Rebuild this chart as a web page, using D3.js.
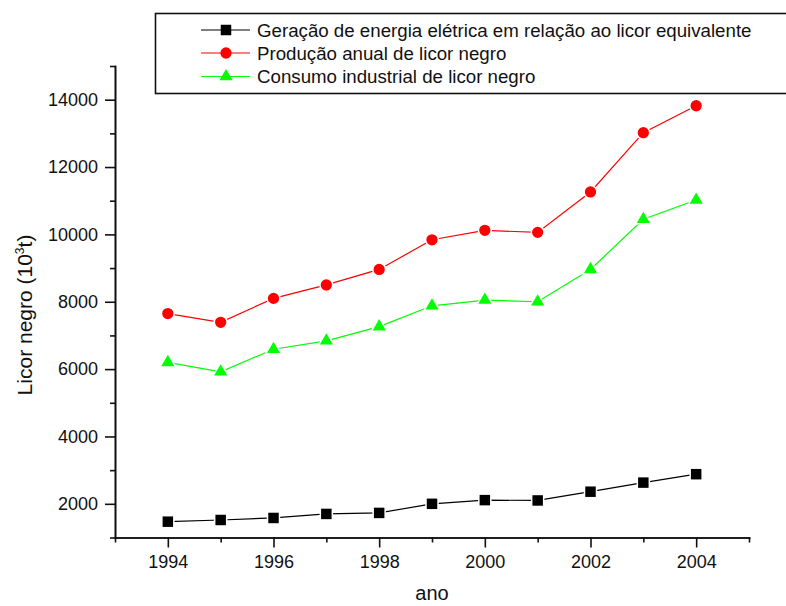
<!DOCTYPE html>
<html>
<head>
<meta charset="utf-8">
<script src="https://cdn.jsdelivr.net/npm/d3@7"></script>
<style>
  body { margin: 0; background: #fff; }
  .chart text { font-family: Arial, "Liberation Sans", sans-serif; fill: #111; }
</style>
</head>
<body>
<div class="chart"></div>
<script>
// data
const years = [1994, 1995, 1996, 1997, 1998, 1999, 2000, 2001, 2002, 2003, 2004];
const geracao = [1470, 1520, 1580, 1700, 1730, 2000, 2110, 2100, 2360, 2630, 2880];
const producao = [7650, 7390, 8100, 8500, 8960, 9840, 10120, 10060, 11260, 13020, 13820];
const consumo = [6200, 5920, 6590, 6840, 7260, 7880, 8050, 8000, 8960, 10450, 11020];
const seriesNames = [
  'Geração de energia elétrica em relação ao licor equivalente',
  'Produção anual de licor negro',
  'Consumo industrial de licor negro'
];
const xMajor = [1994, 1996, 1998, 2000, 2002, 2004];
const xMinor = [1993, 1995, 1997, 1999, 2001, 2003, 2005];
const yMajor = [2000, 4000, 6000, 8000, 10000, 12000, 14000];
const yMinor = [1000, 3000, 5000, 7000, 9000, 11000, 13000, 15000];

const width = 786;
const height = 606;
const plot = { left: 115, right: 749, top: 66, bottom: 537.5 };

const svg = d3.select('.chart')
  .append('svg')
    .attr('width', width)
    .attr('height', height);

const x = d3.scaleLinear().domain([1993, 2005]).range([plot.left, plot.right]);
const y = d3.scaleLinear().domain([1000, 15000]).range([plot.bottom, plot.top]);

// axes: major ticks with labels, minor ticks without
function styleAxis(g) {
  g.selectAll('path, line').attr('stroke', '#111').attr('stroke-width', 1.6);
  g.selectAll('text').style('font-size', '18px');
}

svg.append('g')
    .attr('transform', `translate(0, ${plot.bottom})`)
    .call(d3.axisBottom(x).tickValues(xMinor).tickSize(5).tickSizeOuter(0).tickFormat(''))
    .call(styleAxis);
svg.append('g')
    .attr('transform', `translate(0, ${plot.bottom})`)
    .call(d3.axisBottom(x).tickValues(xMajor).tickSize(10).tickSizeOuter(0).tickPadding(8).tickFormat(d3.format('d')))
    .call(styleAxis);

svg.append('g')
    .attr('transform', `translate(${plot.left}, 0)`)
    .call(d3.axisLeft(y).tickValues(yMinor).tickSize(5).tickSizeOuter(0).tickFormat(''))
    .call(styleAxis);
svg.append('g')
    .attr('transform', `translate(${plot.left}, 0)`)
    .call(d3.axisLeft(y).tickValues(yMajor).tickSize(10).tickSizeOuter(0).tickPadding(7).tickFormat(d3.format('d')))
    .call(styleAxis);

svg.selectAll('.domain').attr('stroke-linecap', 'square');

// axis titles
svg.append('text')
    .attr('x', (plot.left + plot.right) / 2)
    .attr('y', 600)
    .attr('text-anchor', 'middle')
    .style('font-size', '20px')
    .text('ano');

const ylab = svg.append('text')
    .attr('transform', 'translate(32, 315) rotate(-90)')
    .attr('text-anchor', 'middle')
    .style('font-size', '21px');
ylab.append('tspan').text('Licor negro (10');
ylab.append('tspan').attr('dy', -8).style('font-size', '12px').text('3');
ylab.append('tspan').attr('dy', 8).text('t)');

// series
const series = [
  { name: seriesNames[0], values: geracao, color: '#000000', shape: d3.symbolSquare, size: 110 },
  { name: seriesNames[1], values: producao, color: '#ff0000', shape: d3.symbolCircle, size: 100 },
  { name: seriesNames[2], values: consumo, color: '#00ff00', shape: d3.symbolTriangle, size: 75 }
];

const line = d3.line()
  .x(d => x(d[0]))
  .y(d => y(d[1]));

series.forEach(s => {
  const pts = years.map((yr, i) => [yr, s.values[i]]);
  svg.append('path')
      .datum(pts)
      .attr('fill', 'none')
      .attr('stroke', s.color)
      .attr('stroke-width', 1.2)
      .attr('d', line);

  svg.selectAll(null)
    .data(pts)
    .enter()
    .append('path')
      .attr('transform', d => `translate(${x(d[0])}, ${y(d[1])})`)
      .attr('d', d3.symbol().type(s.shape).size(s.size))
      .attr('fill', s.color)
      .attr('stroke', '#fff')
      .attr('stroke-width', 3)
      .style('paint-order', 'stroke');
});

// legend
const legend = svg.append('g');
legend.append('rect')
    .attr('x', 155.5)
    .attr('y', 13.5)
    .attr('width', 660)
    .attr('height', 80)
    .attr('fill', 'none')
    .attr('stroke', '#111')
    .attr('stroke-width', 1.6);

const rowY = [30, 53, 76.5];
series.forEach((s, i) => {
  const row = legend.append('g').attr('transform', `translate(0, ${rowY[i]})`);
  row.append('line')
      .attr('x1', 201).attr('x2', 250)
      .attr('stroke', s.color)
      .attr('stroke-width', 1.2);
  row.append('path')
      .attr('transform', 'translate(226, 0)')
      .attr('d', d3.symbol().type(s.shape).size(s.size))
      .attr('fill', s.color);
  row.append('text')
      .attr('x', 257)
      .attr('dy', '0.35em')
      .style('font-size', '18.7px')
      .text(s.name);
});
</script>
</body>
</html>
